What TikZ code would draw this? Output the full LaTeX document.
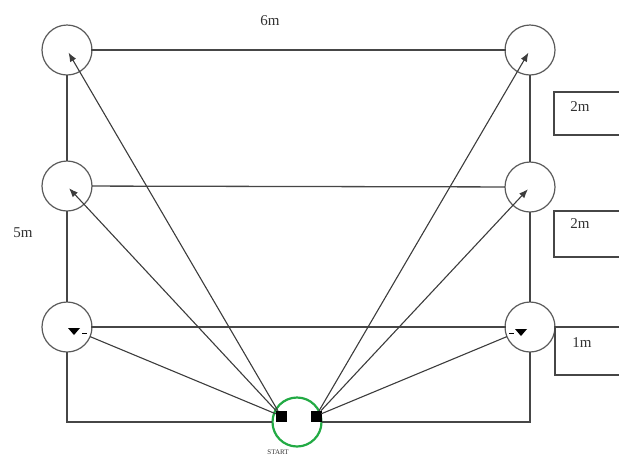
\documentclass[tikz,border=0pt]{standalone}
\usepackage{fontspec}
\setmainfont{Liberation Serif}
\usetikzlibrary{arrows.meta}
\begin{document}
\begin{tikzpicture}[x=1pt,y=-1pt,line cap=rect,
  spot/.style={circle, draw=custcol_5a_5a_5a, line width=1.2pt, minimum size=50pt, inner sep=0},
  startspot/.style={circle, draw=custcol_22_aa_44, line width=2.2pt, minimum size=49pt, inner sep=0},
  tail/.style={fill=custcol_0_0_0, minimum size=11pt, inner sep=0},
  frame/.style={line width=1.3pt, custcol_46_46_46},
  heavy/.style={line width=2.4pt, custcol_46_46_46},
  ray/.style={line width=1.1pt, custcol_3c_3c_3c, -{Latex[length=9pt,width=7pt]}, shorten >=3pt},
  plain/.style={line width=1.1pt, custcol_3c_3c_3c},
  lbl/.style={inner sep=0, outer sep=0, custcol_32_32_32, font=\fontsize{15pt}{15pt}\selectfont}]
\useasboundingbox (0,0) rectangle (619,459);
\definecolor{custcol_0_0_0}{RGB}{0, 0, 0}
\definecolor{custcol_32_32_32}{RGB}{50, 50, 50}
\definecolor{custcol_3c_3c_3c}{RGB}{60, 60, 60}
\definecolor{custcol_46_46_46}{RGB}{70, 70, 70}
\definecolor{custcol_5a_5a_5a}{RGB}{90, 90, 90}
\definecolor{custcol_22_aa_44}{RGB}{34, 170, 68}
\node[spot] (tl) at (67,50) {};
\node[spot] (tr) at (530,50) {};
\node[spot] (ml) at (67,186) {};
\node[spot] (mr) at (530,187) {};
\node[spot] (bl) at (67,327) {};
\node[spot] (br) at (530,327) {};
\node[startspot] (st) at (297,422) {};
\coordinate (cl) at (67,422);
\coordinate (cr) at (530,422);
\coordinate (ex) at (619,327);
\draw [frame]  (tl) -- (ml) ;
\draw [frame]  (ml) -- (bl) ;
\draw [frame]  (bl) -- (cl) -- (st) ;
\draw [frame]  (st) -- (cr) -- (br) ;
\draw [frame]  (br) -- (mr) ;
\draw [frame]  (mr) -- (tr) ;
\draw [heavy]  (tl) -- (tr) ;
\draw [frame]  (ml) -- (mr) ;
\draw [heavy]  (bl) -- (br) ;
\draw [heavy]  (br) -- (ex) ;
% side boxes
\draw [frame]  (619,92) -- (554,92) -- (554,135) -- (619,135) ;
\draw [frame]  (619,211) -- (554,211) -- (554,257) -- (619,257) ;
\draw [frame]  (555,327) -- (555,375) -- (619,375) ;
\node[tail] (sl) at (281,416) {};
\node[tail] (sr) at (316,416) {};
\draw [ray]  (sl) -- (tl.center) ;
\draw [ray]  (sl) -- (ml.center) ;
\draw [plain]  (sl) -- (bl) ;
\draw [ray]  (sr) -- (tr.center) ;
\draw [ray]  (sr) -- (mr.center) ;
\draw [plain]  (sr) -- (br) ;
\fill [custcol_0_0_0]  (68,328) -- (80,328) -- (74,335) -- cycle ;
\draw [line width=1pt, custcol_0_0_0]  (82,333) -- (86,333) ;
\fill [custcol_0_0_0]  (515,329) -- (527,329) -- (521,336) -- cycle ;
\draw [line width=1pt, custcol_0_0_0]  (509,333) -- (513,333) ;
\node[lbl] (w) at (270,21) {6m};
\node[lbl] (h) at (23,233) {5m};
\node[lbl] (d1) at (580,107) {2m};
\node[lbl] (d2) at (580,224) {2m};
\node[lbl] (d3) at (582,343) {1m};
\node[lbl, font=\fontsize{7pt}{7pt}\selectfont] (go) at (278,452) {START};
\end{tikzpicture}
\end{document}
